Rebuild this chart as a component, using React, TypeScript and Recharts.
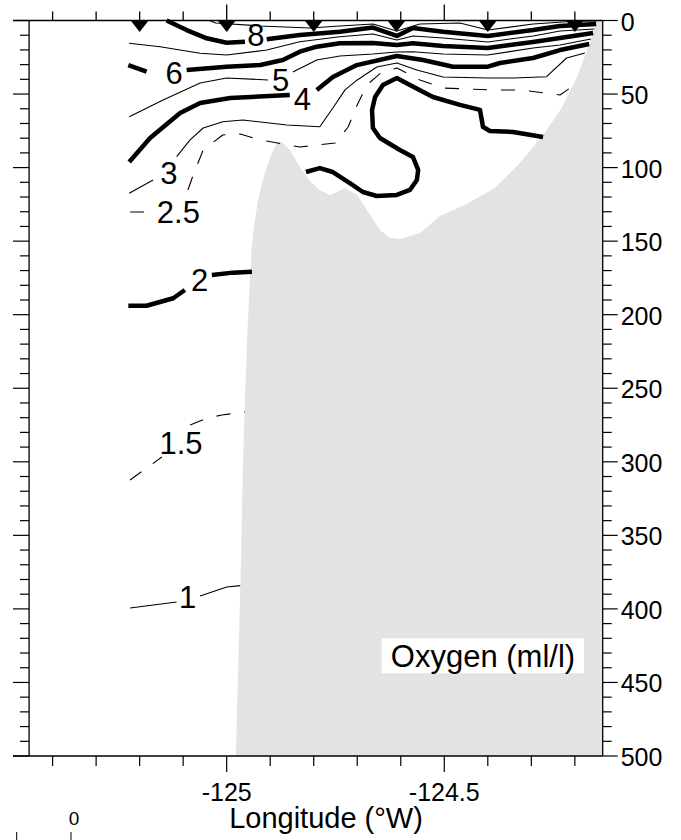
import React from 'react';
import { ComposedChart, XAxis, YAxis, Line, Area, Scatter, ReferenceLine } from 'recharts';

// axis ranges (the plot starts a little above the sea surface)
const LON_MIN = -125.491;
const LON_MAX = -124.136;
const LEFT_AXIS_LON = -125.454;
const DEPTH_MIN = -11.2;
const DEPTH_MAX = 500;

// plot box in page pixels, set by the chart margins below
const PLOT_LEFT = 13;
const PLOT_RIGHT = 602.7;
const SURFACE_Y = 20.5;

const lonTicks = [-125.4, -125.3, -125.2, -125.1, -125, -124.9, -124.8, -124.7, -124.6, -124.5, -124.4, -124.3, -124.2];
const depthTicks = Array.from({ length: 51 }, (_, i) => i * 10);

// CTD stations along the section
const stations = [-125.2, -125.0, -124.8, -124.61, -124.4, -124.2];

// seafloor depth (m) by longitude
const bathymetry: [number, number][] = [
  [-124.979, 500], [-124.973, 434.7], [-124.967, 366.7], [-124.963, 305.6], [-124.958, 258.0],
  [-124.953, 217.2], [-124.949, 190.0], [-124.943, 156.0], [-124.937, 139.7], [-124.928, 122.0],
  [-124.919, 111.2], [-124.910, 101.6], [-124.898, 91.4], [-124.889, 85.3], [-124.880, 82.3],
  [-124.871, 83.3], [-124.855, 88.0], [-124.832, 99.6], [-124.809, 109.1], [-124.786, 115.2],
  [-124.763, 118.6], [-124.747, 116.6], [-124.728, 113.9], [-124.700, 118.6], [-124.678, 128.8],
  [-124.648, 142.4], [-124.625, 147.9], [-124.602, 148.5], [-124.579, 146.5], [-124.556, 144.5],
  [-124.510, 132.9], [-124.448, 124.7], [-124.384, 113.9], [-124.326, 96.9], [-124.273, 77.8],
  [-124.230, 59.5], [-124.193, 37.0], [-124.165, 14.6], [-124.149, 1.0], [-124.145, 0], [-124.136, 0],
];

// oxygen contours (lon, depth), split where the level label sits
const c9 = [[-125.040, 0], [-125.025, 1.7], [-124.923, 3.7], [-124.809, 5.1], [-124.740, 3.7], [-124.664, 2.4], [-124.609, 7.1], [-124.556, 2.4], [-124.464, 1.7], [-124.400, 6.5], [-124.296, 2.4], [-124.211, 0.7], [-124.149, 0.3]];
const c8a = [[-125.138, 0], [-125.092, 6.5], [-125.046, 12.1], [-125.000, 15.1], [-124.958, 14.4]];
const c8b = [[-124.908, 12.8], [-124.832, 9.9], [-124.740, 7.6], [-124.664, 4.8], [-124.609, 10.5], [-124.572, 5.1], [-124.503, 7.6], [-124.400, 10.5], [-124.296, 6.5], [-124.234, 3.7], [-124.151, 2.4]];
const c7 = [[-125.224, 15.5], [-125.153, 17.8], [-125.061, 22.3], [-125.000, 23.5], [-124.908, 20.1], [-124.832, 14.4], [-124.740, 11.0], [-124.664, 9.2], [-124.609, 13.3], [-124.572, 10.5], [-124.503, 11.9], [-124.400, 14.6], [-124.296, 10.5], [-124.234, 7.1], [-124.155, 5.8]];
const c6a = [[-125.226, 30.3], [-125.184, 34.8]];
const c6b = [[-125.092, 33.7], [-125.000, 31.4], [-124.923, 30.3], [-124.871, 26.9], [-124.832, 21.2], [-124.793, 17.8], [-124.740, 15.5], [-124.664, 15.3], [-124.609, 16.7], [-124.572, 15.5], [-124.503, 17.3], [-124.400, 18.7], [-124.296, 14.6], [-124.234, 11.9], [-124.158, 8.5]];
const c5a = [[-125.224, 65.4], [-125.146, 54.0], [-125.061, 42.5], [-125.000, 39.1], [-124.905, 40.4]];
const c5b = [[-124.848, 35.0], [-124.793, 26.9], [-124.740, 24.1], [-124.664, 22.8], [-124.609, 21.4], [-124.572, 21.2], [-124.503, 22.8], [-124.400, 23.5], [-124.296, 18.7], [-124.234, 16.7], [-124.163, 12.6]];
const c4a = [[-125.224, 96.2], [-125.176, 79.9], [-125.107, 62.9], [-125.061, 56.1], [-124.992, 52.7], [-124.855, 50.6]];
const c4b = [[-124.793, 47.2], [-124.756, 38.4], [-124.701, 30.3], [-124.609, 24.1], [-124.549, 26.9], [-124.480, 31.4], [-124.400, 31.4], [-124.372, 28.9], [-124.296, 25.5], [-124.234, 20.1], [-124.167, 16.0]];
const c3a = [[-125.224, 117.5], [-125.169, 108.4]];
const c3b = [[-125.115, 92.6], [-125.084, 81.2], [-125.054, 73.1], [-125.009, 68.8], [-124.963, 67.6], [-124.862, 71.0], [-124.786, 72.2], [-124.756, 59.5], [-124.728, 47.2], [-124.700, 40.4], [-124.655, 31.6], [-124.609, 28.9], [-124.563, 33.7], [-124.503, 38.4], [-124.400, 39.1], [-124.342, 39.1], [-124.265, 38.2], [-124.219, 25.5], [-124.177, 22.1]];
const c25a = [[-125.222, 130.2], [-125.181, 130.2]];
const c25b = [[-125.089, 115.2], [-125.077, 105.0], [-125.054, 88.0], [-125.009, 77.8], [-124.969, 77.2], [-124.923, 81.2], [-124.832, 86.0], [-124.751, 83.3], [-124.721, 72.4], [-124.700, 57.4], [-124.678, 43.8], [-124.643, 35.0], [-124.609, 32.3], [-124.556, 40.4], [-124.503, 45.9], [-124.395, 47.2], [-124.326, 47.2], [-124.234, 50.6], [-124.204, 44.5]];
const c2a = [[-125.226, 193.9], [-125.184, 193.9], [-125.123, 188.8], [-125.096, 183.2]];
const c2b = [[-125.034, 173.0], [-124.986, 171.4], [-124.942, 170.8]];
const c2c = [[-124.818, 103.0], [-124.786, 100.3], [-124.756, 103.0], [-124.717, 110.5], [-124.687, 116.6], [-124.655, 119.3], [-124.609, 118.6], [-124.579, 115.2], [-124.563, 108.4], [-124.560, 101.6], [-124.572, 92.8], [-124.602, 88.0], [-124.648, 79.9], [-124.664, 73.1], [-124.666, 60.8], [-124.659, 52.0], [-124.641, 43.8], [-124.609, 39.1], [-124.579, 43.8], [-124.526, 52.0], [-124.464, 57.4], [-124.418, 60.8], [-124.411, 72.4], [-124.395, 75.1], [-124.342, 75.8], [-124.273, 79.2]];
const c15a = [[-125.222, 312.4], [-125.149, 296.7]];
const c15b = [[-125.084, 275.0], [-125.045, 270.2], [-125.011, 268.2], [-124.958, 266.1]];
const c1a = [[-125.222, 399.4], [-125.115, 395.3]];
const c1b = [[-125.061, 391.2], [-125.000, 385.1], [-124.969, 384.2]];

const contourLabels = [
  { lon: -124.933, depth: 10.1, text: '8' },
  { lon: -125.121, depth: 35.9, text: '6' },
  { lon: -124.876, depth: 40.9, text: '5' },
  { lon: -124.826, depth: 54.0, text: '4' },
  { lon: -125.133, depth: 104.3, text: '3' },
  { lon: -125.111, depth: 130.5, text: '2.5' },
  { lon: -125.062, depth: 177.0, text: '2' },
  { lon: -125.105, depth: 287.4, text: '1.5' },
  { lon: -125.090, depth: 392.2, text: '1' },
];

type Style = 'thick' | 'thin' | 'dash';
const contours: { id: string; style: Style; pts: number[][] }[] = [
  { id: 'c9', style: 'thin', pts: c9 },
  { id: 'c8a', style: 'thick', pts: c8a },
  { id: 'c8b', style: 'thick', pts: c8b },
  { id: 'c7', style: 'thin', pts: c7 },
  { id: 'c6a', style: 'thick', pts: c6a },
  { id: 'c6b', style: 'thick', pts: c6b },
  { id: 'c5a', style: 'thin', pts: c5a },
  { id: 'c5b', style: 'thin', pts: c5b },
  { id: 'c4a', style: 'thick', pts: c4a },
  { id: 'c4b', style: 'thick', pts: c4b },
  { id: 'c3a', style: 'thin', pts: c3a },
  { id: 'c3b', style: 'thin', pts: c3b },
  { id: 'c25a', style: 'dash', pts: c25a },
  { id: 'c25b', style: 'dash', pts: c25b },
  { id: 'c2a', style: 'thick', pts: c2a },
  { id: 'c2b', style: 'thick', pts: c2b },
  { id: 'c2c', style: 'thick', pts: c2c },
  { id: 'c15a', style: 'dash', pts: c15a },
  { id: 'c15b', style: 'dash', pts: c15b },
  { id: 'c1a', style: 'thin', pts: c1a },
  { id: 'c1b', style: 'thin', pts: c1b },
];

const FONT = '"Liberation Sans", Arial, Helvetica, sans-serif';
const bathyData = bathymetry.map(([lon, floor]) => ({ lon, floor }));
const stationData = stations.map((lon) => ({ lon, depth: 0 }));
const isMajorLon = (v: number) => Math.abs(v * 2 - Math.round(v * 2)) < 1e-6;
const lonToPx = (lon: number) => PLOT_LEFT + ((lon - LON_MIN) / (LON_MAX - LON_MIN)) * (PLOT_RIGHT - PLOT_LEFT);

const BottomTick = ({ x, y, payload }: any) => {
  const major = isMajorLon(payload.value);
  return (
    <g>
      <line x1={x} x2={x} y1={y} y2={y + (major ? 16 : 10)} stroke="#000" strokeWidth={1.2} />
      {major && (
        <text x={x} y={y + 36} textAnchor="middle" dominantBaseline="central" fontSize={25} fontFamily={FONT} fill="#000">
          {String(payload.value)}
        </text>
      )}
    </g>
  );
};

const RightTick = ({ x, y, payload }: any) => {
  const major = payload.value % 50 === 0;
  return (
    <g>
      <line x1={x} x2={x + (major ? 15 : 9)} y1={y} y2={y} stroke="#000" strokeWidth={1.2} />
      {major && (
        <text x={x + 18} y={y + 1} textAnchor="start" dominantBaseline="central" fontSize={25} fontFamily={FONT} fill="#000">
          {payload.value}
        </text>
      )}
    </g>
  );
};

// left depth axis sits 16px inside the plot's left edge
const LeftTick = ({ x, y, payload }: any) => {
  const major = payload.value % 50 === 0;
  return <line x1={x + (major ? 0 : 7)} x2={x + 16} y1={y} y2={y} stroke="#000" strokeWidth={1.2} />;
};

const Triangle = ({ cx, cy }: any) => (
  <polygon points={`${cx - 9},${cy} ${cx + 9},${cy} ${cx},${cy + 11.5}`} fill="#000" />
);

const LevelLabel = ({ cx, cy, payload }: any) => (
  <text x={cx} y={cy} textAnchor="middle" dominantBaseline="central" fontSize={31} fontFamily={FONT} fill="#000">
    {payload.text}
  </text>
);

const strokeFor = (s: Style) =>
  s === 'thick' ? { strokeWidth: 4.5 } : s === 'thin' ? { strokeWidth: 1.1 } : { strokeWidth: 1.1, strokeDasharray: '14 14' };

const frame = { xAxisId: 'b', yAxisId: 'd', stroke: '#000', ifOverflow: 'visible' as const };

export default function App() {
  return (
    <div style={{ position: 'absolute', left: 0, top: 0, width: 681, height: 840, background: '#fff' }}>
      <ComposedChart width={681} height={840} data={bathyData} margin={{ top: 4.025, right: 18.3, bottom: 24, left: 3 }}>
        <Area
          xAxisId="b"
          yAxisId="d"
          type="linear"
          dataKey={(d: any) => [d.floor, DEPTH_MAX]}
          stroke="none"
          fill="#e3e3e3"
          fillOpacity={1}
          isAnimationActive={false}
        />
        {contours.map((c) => (
          <Line
            key={c.id}
            xAxisId="b"
            yAxisId="d"
            data={c.pts.map(([lon, depth]) => ({ lon, depth }))}
            dataKey="depth"
            type="linear"
            stroke="#000"
            {...strokeFor(c.style)}
            strokeLinejoin="round"
            dot={false}
            activeDot={false}
            isAnimationActive={false}
          />
        ))}
        <Scatter xAxisId="b" yAxisId="d" data={contourLabels} dataKey="depth" shape={<LevelLabel />} isAnimationActive={false} />
        <ReferenceLine {...frame} y={0} strokeWidth={1.3} />
        <ReferenceLine {...frame} segment={[{ x: LEFT_AXIS_LON, y: 0 }, { x: LEFT_AXIS_LON, y: DEPTH_MAX }]} strokeWidth={1.3} />
        <ReferenceLine {...frame} segment={[{ x: LON_MAX, y: 0 }, { x: LON_MAX, y: DEPTH_MAX }]} strokeWidth={1.3} />
        <Scatter xAxisId="b" yAxisId="d" data={stationData} dataKey="depth" shape={<Triangle />} isAnimationActive={false} />
        <XAxis
          xAxisId="b"
          dataKey="lon"
          type="number"
          domain={[LON_MIN, LON_MAX]}
          allowDataOverflow
          ticks={lonTicks}
          interval={0}
          height={60}
          tickSize={0}
          tickMargin={0}
          axisLine={{ stroke: '#000', strokeWidth: 1.3 }}
          tick={<BottomTick />}
        />
        <YAxis
          yAxisId="d"
          orientation="right"
          type="number"
          reversed
          domain={[DEPTH_MIN, DEPTH_MAX]}
          allowDataOverflow
          ticks={depthTicks}
          interval={0}
          width={60}
          tickSize={0}
          tickMargin={0}
          axisLine={false}
          tick={<RightTick />}
        />
        <YAxis
          yAxisId="l"
          orientation="left"
          type="number"
          reversed
          domain={[DEPTH_MIN, DEPTH_MAX]}
          allowDataOverflow
          ticks={depthTicks}
          interval={0}
          width={10}
          tickSize={0}
          tickMargin={0}
          axisLine={false}
          tick={<LeftTick />}
        />
      </ComposedChart>
      <svg width={681} height={840} style={{ position: 'absolute', left: 0, top: 0, pointerEvents: 'none' }}>
        {lonTicks.map((lon) => (
          <line
            key={lon}
            x1={lonToPx(lon)}
            x2={lonToPx(lon)}
            y1={SURFACE_Y}
            y2={SURFACE_Y - (isMajorLon(lon) ? 16 : 9)}
            stroke="#000"
            strokeWidth={1.3}
          />
        ))}
        <rect x={381.7} y={638.3} width={202.3} height={35} fill="#fff" />
        <text x={483} y={656} textAnchor="middle" dominantBaseline="central" fontSize={31} fontFamily={FONT} fill="#000">
          Oxygen (ml/l)
        </text>
        <text x={326} y={818} textAnchor="middle" dominantBaseline="central" fontSize={29} fontFamily={FONT} fill="#000">
          Longitude (°W)
        </text>
        <text x={74} y={818} textAnchor="middle" dominantBaseline="central" fontSize={19} fontFamily={FONT} fill="#000">
          0
        </text>
        <line x1={16.7} x2={16.7} y1={832} y2={840} stroke="#000" strokeWidth={1} />
        <line x1={71} x2={71} y1={832} y2={840} stroke="#000" strokeWidth={1} />
      </svg>
    </div>
  );
}
